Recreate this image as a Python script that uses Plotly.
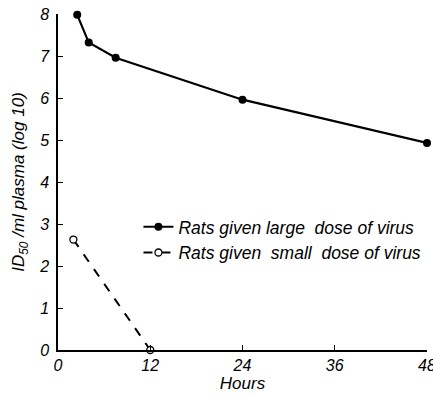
import plotly.graph_objects as go

# Data
large_hours = [2.5, 4, 7.5, 24, 48]
large_vals = [7.98, 7.32, 6.96, 5.96, 4.93]
small_hours = [2, 12]
small_vals = [2.63, 0]

x_ticks = [0, 12, 24, 36, 48]
y_ticks = [0, 1, 2, 3, 4, 5, 6, 7, 8]

FONT = "Liberation Sans, Arial"

fig = go.Figure()
fig.add_trace(go.Scatter(
    x=large_hours, y=large_vals, mode="lines+markers",
    name="Rats given large  dose of virus",
    line=dict(color="black", width=2.2),
    marker=dict(color="black", size=8, symbol="circle"),
    cliponaxis=False,
))
fig.add_trace(go.Scatter(
    x=small_hours, y=small_vals, mode="lines+markers",
    name="Rats given  small  dose of virus",
    line=dict(color="black", width=2, dash="dash"),
    marker=dict(color="white", size=7, symbol="circle",
                line=dict(color="black", width=1.3)),
    cliponaxis=False,
))

fig.update_layout(
    width=433, height=396,
    margin=dict(l=58, r=6, t=14, b=46),
    paper_bgcolor="white", plot_bgcolor="white",
    font=dict(family=FONT, size=16, color="black", style="italic"),
    showlegend=True,
    legend=dict(x=0.218, y=0.42, xanchor="left", yanchor="top",
                bgcolor="rgba(0,0,0,0)",
                font=dict(size=17.5, family=FONT, style="italic")),
    xaxis=dict(
        range=[0, 48], tickvals=x_ticks, ticktext=[str(v) for v in x_ticks],
        showline=True, linecolor="black", linewidth=1.5,
        ticks="inside", ticklen=5, tickcolor="black", tickwidth=1.3,
        showgrid=False, zeroline=False, ticklabeloverflow="allow",
        automargin=False,
        title=dict(text="Hours", standoff=2, font=dict(size=17)),
    ),
    yaxis=dict(
        range=[0, 8], tickvals=y_ticks, ticktext=[str(v) for v in y_ticks],
        showline=True, linecolor="black", linewidth=1.5,
        ticks="inside", ticklen=5, tickcolor="black", tickwidth=1.3,
        showgrid=False, zeroline=False, ticklabelstandoff=4,
        automargin=False,
        title=dict(text="ID<sub>50</sub> /ml plasma (log 10)", standoff=10, font=dict(size=17)),
    ),
)

fig.write_html("out.html")
